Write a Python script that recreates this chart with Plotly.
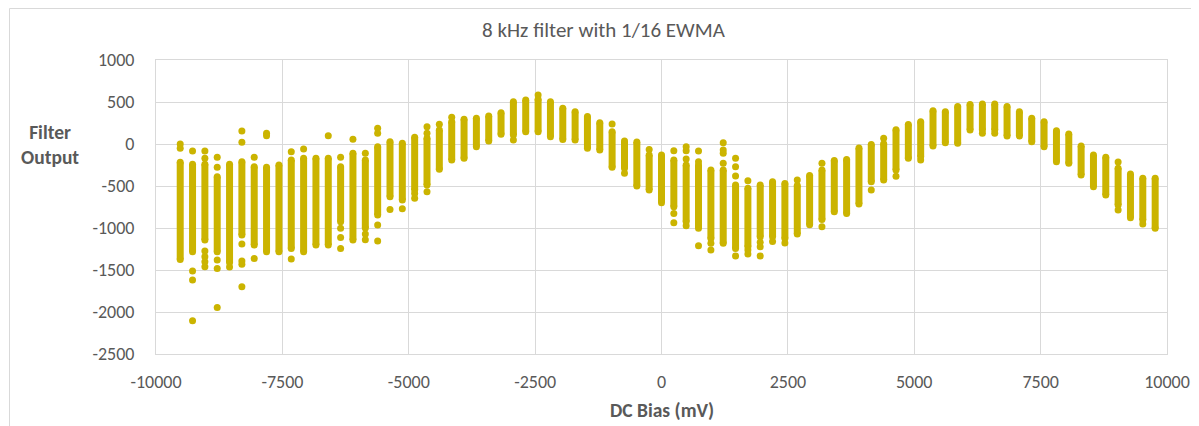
import plotly.graph_objects as go

# DC bias of each measured column (mV)
dc_bias = [-9521, -9277, -9033, -8789, -8545, -8301, -8057, -7813, -7568, -7324,
           -7080, -6836, -6592, -6348, -6104, -5859, -5615, -5371, -5127, -4883,
           -4639, -4395, -4150, -3906, -3662, -3418, -3174, -2930, -2686, -2441,
           -2197, -1953, -1709, -1465, -1221, -977, -732, -488, -244, 0,
           244, 488, 732, 977, 1221, 1465, 1709, 1953, 2197, 2441,
           2686, 2930, 3174, 3418, 3662, 3906, 4150, 4395, 4639, 4883,
           5127, 5371, 5615, 5859, 6104, 6348, 6592, 6836, 7080, 7324,
           7568, 7813, 8057, 8301, 8545, 8789, 9033, 9277, 9521, 9766]

# upper and lower ends of the dense run of filter outputs in each column
band_hi = [-218, -242, -242, -389, -240, -210, -270, -278, -250, -190,
           -171, -171, -171, -270, -111, -190, -32, 28, 8, 79,
           67, 167, 266, 294, 306, 333, 373, 504, 524, 532,
           504, 425, 385, 326, 254, 147, 36, 24, -131, -131,
           -190, -250, -250, -310, -310, -488, -528, -488, -449, -470,
           -495, -375, -310, -196, -186, -48, -6, 4, 171, 232,
           266, 397, 385, 445, 470, 476, 476, 445, 385, 306,
           266, 159, 119, -24, -131, -159, -290, -357, -409, -409]
band_lo = [-1374, -1282, -1143, -1282, -1410, -1084, -1203, -1282, -1282, -1243,
           -1282, -1203, -1203, -925, -1143, -1000, -845, -627, -667, -548,
           -488, -302, -190, -171, -32, 36, 115, 107, 147, 147,
           87, 55, 48, -52, -71, -278, -290, -500, -548, -699,
           -746, -925, -1004, -1124, -1183, -1243, -1223, -1104, -1104, -1124,
           -1072, -960, -900, -806, -826, -715, -449, -429, -310, -171,
           -151, -24, 16, 8, 167, 167, 167, 95, 95, 28,
           -32, -210, -230, -369, -508, -607, -726, -877, -905, -1004]

# isolated readings outside the dense run, per column
isolated = [[0, -52], [-83, -1513, -1620, -2104], [-83, -171, -1274, -1342, -1401, -1461],
            [-159, -278, -1381, -1481, -1945], [-1465], [155, 20, -1191, -1393, -1433, -1699],
            [-159, -1362], [127, 99], [], [-91, -1370],
            [-60], [], [99], [-159, -1004, -1112, -1243], [56],
            [-110, -1070, -1140], [187, 127, -965, -1155], [-780], [-770], [-588, -647],
            [206, 127, -568], [234], [318], [], [],
            [], [], [48], [], [584],
            [], [], [], [], [],
            [238], [-349], [], [-64], [],
            [-79, -826, -937], [-32, -79, -179, -973], [-83, -210, -1211], [-1183, -1262],
            [16, -71, -111, -230], [-171, -270, -381, -1334], [-437, -1262, -1310],
            [-1171, -1223, -1334], [-1160], [-1180],
            [-429], [], [-230, -985], [], [],
            [], [-548], [67], [-385], [],
            [-190], [], [], [], [],
            [127], [127], [], [], [],
            [], [], [], [], [],
            [], [-214, -786], [], [-953], []]

x_ticks = [-10000, -7500, -5000, -2500, 0, 2500, 5000, 7500, 10000]
y_ticks = [1000, 500, 0, -500, -1000, -1500, -2000, -2500]

GOLD = "#CBB400"
GREY = "#595959"
GRID = "#D9D9D9"
FONT = "Carlito, Lato, sans-serif"

seg_x, seg_y = [], []
for xv, hi, lo in zip(dc_bias, band_hi, band_lo):
    seg_x += [xv, xv, None]
    seg_y += [hi, lo, None]

iso_x, iso_y = [], []
for xv, vals in zip(dc_bias, isolated):
    for v in vals:
        iso_x.append(xv)
        iso_y.append(v)

fig = go.Figure()
fig.add_trace(go.Scatter(x=seg_x, y=seg_y, mode="lines+markers",
                         line=dict(color=GOLD, width=7),
                         marker=dict(color=GOLD, size=7),
                         showlegend=False, hoverinfo="skip"))
fig.add_trace(go.Scatter(x=iso_x, y=iso_y, mode="markers",
                         marker=dict(color=GOLD, size=7),
                         showlegend=False))

# the page body adds an 8 px offset; figure coordinates below are window - 8
OFF = 8
W, H = 1199 - OFF, 426 - OFF
L, T = 156 - OFF, 60 - OFF
R = W - (1167 - OFF)
B = H - (354 - OFF)
pw, ph = W - L - R, H - T - B


def py(win_y):
    """window pixel row -> paper y"""
    return (T + ph - (win_y - OFF)) / ph


def px(win_x):
    """window pixel column -> paper x"""
    return (win_x - OFF - L) / pw


fig.update_layout(
    width=W, height=H,
    margin=dict(l=L, r=R, t=T, b=B, autoexpand=False),
    paper_bgcolor="white", plot_bgcolor="white",
    font=dict(family=FONT, color=GREY, size=18),
    title=dict(text="8 kHz filter with 1/16 EWMA", x=0.5, xref="container", xanchor="center",
               y=1 - (30 - OFF) / H, yref="container", yanchor="middle",
               font=dict(family=FONT, size=21, color=GREY)),
    xaxis=dict(range=[-10000, 10000], tickvals=x_ticks, ticktext=[str(v) for v in x_ticks],
               showgrid=True, gridcolor=GRID, gridwidth=1, zeroline=False,
               showline=True, linecolor=GRID, mirror=True,
               ticks="", ticklabelstandoff=11, tickfont=dict(size=18, color=GREY)),
    yaxis=dict(range=[-2500, 1000], tickvals=y_ticks, ticktext=[str(v) for v in y_ticks],
               showgrid=True, gridcolor=GRID, gridwidth=1, zeroline=False,
               showline=True, linecolor=GRID, mirror=True,
               ticks="", ticklabelstandoff=17, tickfont=dict(size=18, color=GREY)),
    shapes=[dict(type="rect", xref="paper", yref="paper",
                 x0=px(9.5), x1=px(1210), y0=py(440), y1=py(8.5),
                 line=dict(color=GRID, width=1), fillcolor="rgba(0,0,0,0)", layer="below")],
    annotations=[
        dict(text="<b>DC Bias (mV)</b>", xref="paper", yref="paper",
             x=0.5, y=py(410), xanchor="center", yanchor="middle",
             showarrow=False, font=dict(family=FONT, size=19.5, color=GREY)),
        dict(text="<b>Filter<br>Output</b>", xref="paper", yref="paper",
             x=px(50), y=py(144), xanchor="center", yanchor="middle",
             showarrow=False, align="center", font=dict(family=FONT, size=19.5, color=GREY)),
    ],
)

fig.write_html("out.html")
